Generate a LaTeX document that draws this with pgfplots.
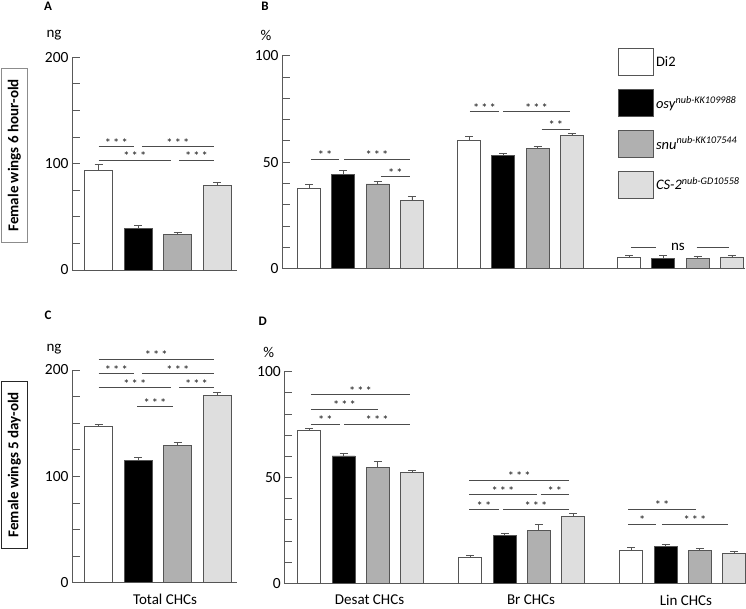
\documentclass[border=0pt]{standalone}
\usepackage{fontspec}
\setmainfont{Carlito}
\usepackage{pgfplots}
\pgfplotsset{compat=1.18}
\definecolor{cgray}{HTML}{B0B0B0}
\definecolor{clight}{HTML}{DEDEDE}
\definecolor{edge}{HTML}{555555}
\definecolor{axisc}{HTML}{595959}
\newcommand{\three}{*\,*\,*}
\newcommand{\two}{*\,*}
\newcommand{\one}{*}
\newcommand{\sig}[4]{\draw[sigl] (axis cs:#1,#3) -- node[sigt]{#4} (axis cs:#2,#3);}
\tikzset{
  sigl/.style={black!70, line width=0.9pt},
  sigt/.style={midway, anchor=base, inner sep=0pt, black!90, font=\fontsize{12.5}{12}\selectfont, yshift=-0.5pt},
}
\pgfplotsset{
  panel/.style={
    scale only axis, anchor=south west, clip=false,
    axis lines*=left,
    axis line style={axisc, line width=0.8pt},
    ymin=0,
    tick align=inside,
    major tick length=8pt, minor tick length=8pt,
    tick style={axisc, line width=0.8pt},
    xtick style={draw=none},
    /pgf/number format/assume math mode=true,
    tick label style={font=\fontsize{15.5}{16}\selectfont},
    ybar,
    error bars/y dir=plus, error bars/y explicit,
    error bars/error mark=-,
    error bars/error bar style={edge, line width=0.8pt},
    error bars/error mark options={edge, line width=0.8pt, mark size=4pt, rotate=90},
  },
  s1/.style={fill=white, draw=edge, line width=0.8pt},
  s2/.style={fill=black, draw=edge, line width=0.8pt},
  s3/.style={fill=cgray, draw=edge, line width=0.8pt},
  s4/.style={fill=clight, draw=edge, line width=0.8pt},
  legbox/.style={legend image code/.code={\draw[##1, draw=edge, line width=0.8pt] (0pt,-13.5pt) rectangle (35pt,13.5pt);}},
}
\begin{document}
\begin{tikzpicture}
\useasboundingbox (0,0) rectangle (746pt,609pt);

% Panel A
\begin{axis}[panel, at={(72pt,339pt)}, width=164.75pt, height=212.7pt,
  xmin=-0.671, xmax=3.5, ymax=200, ytick={0,100,200},
  minor ytick={25,50,75,125,150,175}, xtick=\empty, bar width=28pt]
\addplot[s1, bar shift=0pt] coordinates {(0,94) +- (0,5)};
\addplot[s2, bar shift=0pt] coordinates {(1,38.8) +- (0,3)};
\addplot[s3, bar shift=0pt] coordinates {(2,33.5) +- (0,2)};
\addplot[s4, bar shift=0pt] coordinates {(3,79.5) +- (0,2.5)};
\sig{0.005}{0.899}{116}{\three}
\sig{1.10}{2.92}{116}{\three}
\sig{0.005}{1.835}{103}{\three}
\sig{2.04}{2.92}{103}{\three}
\end{axis}

% Panel B
\begin{axis}[panel, at={(282pt,340.3pt)}, width=462.5pt, height=213pt,
  xmin=-0.4906, xmax=2.4, ymax=100, ytick={0,50,100},
  minor ytick={10,20,30,40,60,70,80,90}, xtick=\empty,
  ybar=11.3pt, bar width=23pt,
  legend style={at={(0.7265,1.036)}, anchor=north west, draw=none, fill=none,
    font=\fontsize{14.5}{15}\selectfont, row sep=13pt, inner sep=0pt},
  legend cell align=left]
\addplot[s1, legbox] coordinates {(0,37.6) +- (0,2.2) (1,60) +- (0,2.2) (2,5.5) +- (0,0.8)};
\addplot[s2, legbox] coordinates {(0,44.3) +- (0,1.9) (1,53) +- (0,1.3) (2,4.8) +- (0,1.5)};
\addplot[s3, legbox] coordinates {(0,39.8) +- (0,1.0) (1,56.5) +- (0,0.8) (2,4.8) +- (0,1.2)};
\addplot[s4, legbox] coordinates {(0,32) +- (0,2) (1,62.6) +- (0,1.1) (2,5.5) +- (0,0.8)};
\addlegendentry{Di2}
\addlegendentry{\textit{osy}\textsuperscript{\textit{nub-KK109988}}}
\addlegendentry{\textit{snu}\textsuperscript{\textit{nub-KK107544}}}
\addlegendentry{\textit{CS-2}\textsuperscript{\textit{nub-GD10558}}}
\sig{-0.309}{-0.134}{51.4}{\two}
\sig{-0.103}{0.309}{51.4}{\three}
\sig{0.128}{0.309}{43.2}{\two}
\sig{0.684}{0.866}{73.6}{\three}
\sig{0.891}{1.309}{73.6}{\three}
\sig{1.1325}{1.309}{65.4}{\two}
\draw[sigl] (axis cs:1.689,10.2) -- (axis cs:1.845,10.2);
\draw[sigl] (axis cs:2.101,10.2) -- (axis cs:2.305,10.2);
\node[font=\fontsize{15}{15}\selectfont, inner sep=0pt] at (axis cs:1.984,10.2) {ns};
\end{axis}

% Panel C
\begin{axis}[panel, at={(72pt,26.3pt)}, width=164.75pt, height=212.7pt,
  xmin=-0.671, xmax=3.5, ymax=200, ytick={0,100,200},
  minor ytick={25,50,75,125,150,175}, bar width=28pt,
  xtick={1.684}, xticklabels={Total CHCs},
  xticklabel style={font=\fontsize{15}{16}\selectfont}]
\addplot[s1, bar shift=0pt] coordinates {(0,147.1) +- (0,1.9)};
\addplot[s2, bar shift=0pt] coordinates {(1,115.1) +- (0,2.5)};
\addplot[s3, bar shift=0pt] coordinates {(2,128.9) +- (0,2.8)};
\addplot[s4, bar shift=0pt] coordinates {(3,176.3) +- (0,2.4)};
\sig{0.005}{2.92}{210.2}{\three}
\sig{0.005}{0.899}{196.6}{\three}
\sig{1.10}{2.92}{196.6}{\three}
\sig{0.005}{1.835}{183.4}{\three}
\sig{2.04}{2.92}{183.4}{\three}
\sig{0.975}{1.886}{165.6}{\three}
\end{axis}

% Panel D
\begin{axis}[panel, at={(284.3pt,25.7pt)}, width=459.6pt, height=211.6pt,
  xmin=-0.4745, xmax=2.38, ymax=100, ytick={0,50,100},
  minor ytick={10,20,30,40,60,70,80,90},
  ybar=11.3pt, bar width=23pt,
  xtick={0.055,1.058,2.02}, xticklabels={Desat CHCs, Br CHCs, Lin CHCs},
  xticklabel style={font=\fontsize{15}{16}\selectfont}]
\addplot[s1] coordinates {(0,72.3) +- (0,0.9) (1,12.3) +- (0,1.1) (2,15.6) +- (0,1.4)};
\addplot[s2] coordinates {(0,60.2) +- (0,1.2) (1,22.7) +- (0,1.1) (2,17.3) +- (0,1.1)};
\addplot[s3] coordinates {(0,54.8) +- (0,2.7) (1,25) +- (0,3) (2,15.6) +- (0,0.9)};
\addplot[s4] coordinates {(0,52.4) +- (0,1.1) (1,31.7) +- (0,1.1) (2,14.2) +- (0,0.9)};
\sig{-0.309}{0.306}{89.1}{\three}
\sig{-0.309}{0.107}{82.2}{\three}
\sig{-0.309}{-0.129}{75.1}{\two}
\sig{-0.102}{0.306}{75.1}{\three}
\sig{0.6745}{1.294}{48.8}{\three}
\sig{0.6745}{1.093}{41.9}{\three}
\sig{1.118}{1.294}{41.9}{\two}
\sig{0.6745}{0.857}{34.8}{\two}
\sig{0.884}{1.294}{34.8}{\three}
\sig{1.662}{2.081}{35.1}{\two}
\sig{1.662}{1.834}{28}{\one}
\sig{1.870}{2.283}{28}{\three}
\end{axis}

% panel letters and units
\node[font=\bfseries\fontsize{13}{13}\selectfont] at (48pt,603pt) {A};
\node[font=\bfseries\fontsize{13}{13}\selectfont] at (265pt,603pt) {B};
\node[font=\bfseries\fontsize{13}{13}\selectfont] at (48pt,294pt) {C};
\node[font=\bfseries\fontsize{13}{13}\selectfont] at (262.7pt,287.3pt) {D};
\node[font=\fontsize{15}{15}\selectfont] at (54pt,574pt) {ng};
\node[font=\fontsize{15}{15}\selectfont] at (266pt,574pt) {\%};
\node[font=\fontsize{15}{15}\selectfont] at (54pt,259.7pt) {ng};
\node[font=\fontsize{15}{15}\selectfont] at (268.7pt,256.3pt) {\%};
% row labels
\node[draw=black!45, line width=0.8pt, rotate=90, minimum width=174pt, minimum height=26.7pt, inner sep=0pt,
  font=\bfseries\fontsize{15}{15}\selectfont] at (14.3pt,453.7pt) {Female wings 6 hour-old};
\node[draw=black!85, line width=0.8pt, rotate=90, minimum width=167.3pt, minimum height=26.7pt, inner sep=0pt,
  font=\bfseries\fontsize{15}{15}\selectfont] at (14.3pt,144.3pt) {Female wings 5 day-old};
\end{tikzpicture}
\end{document}
